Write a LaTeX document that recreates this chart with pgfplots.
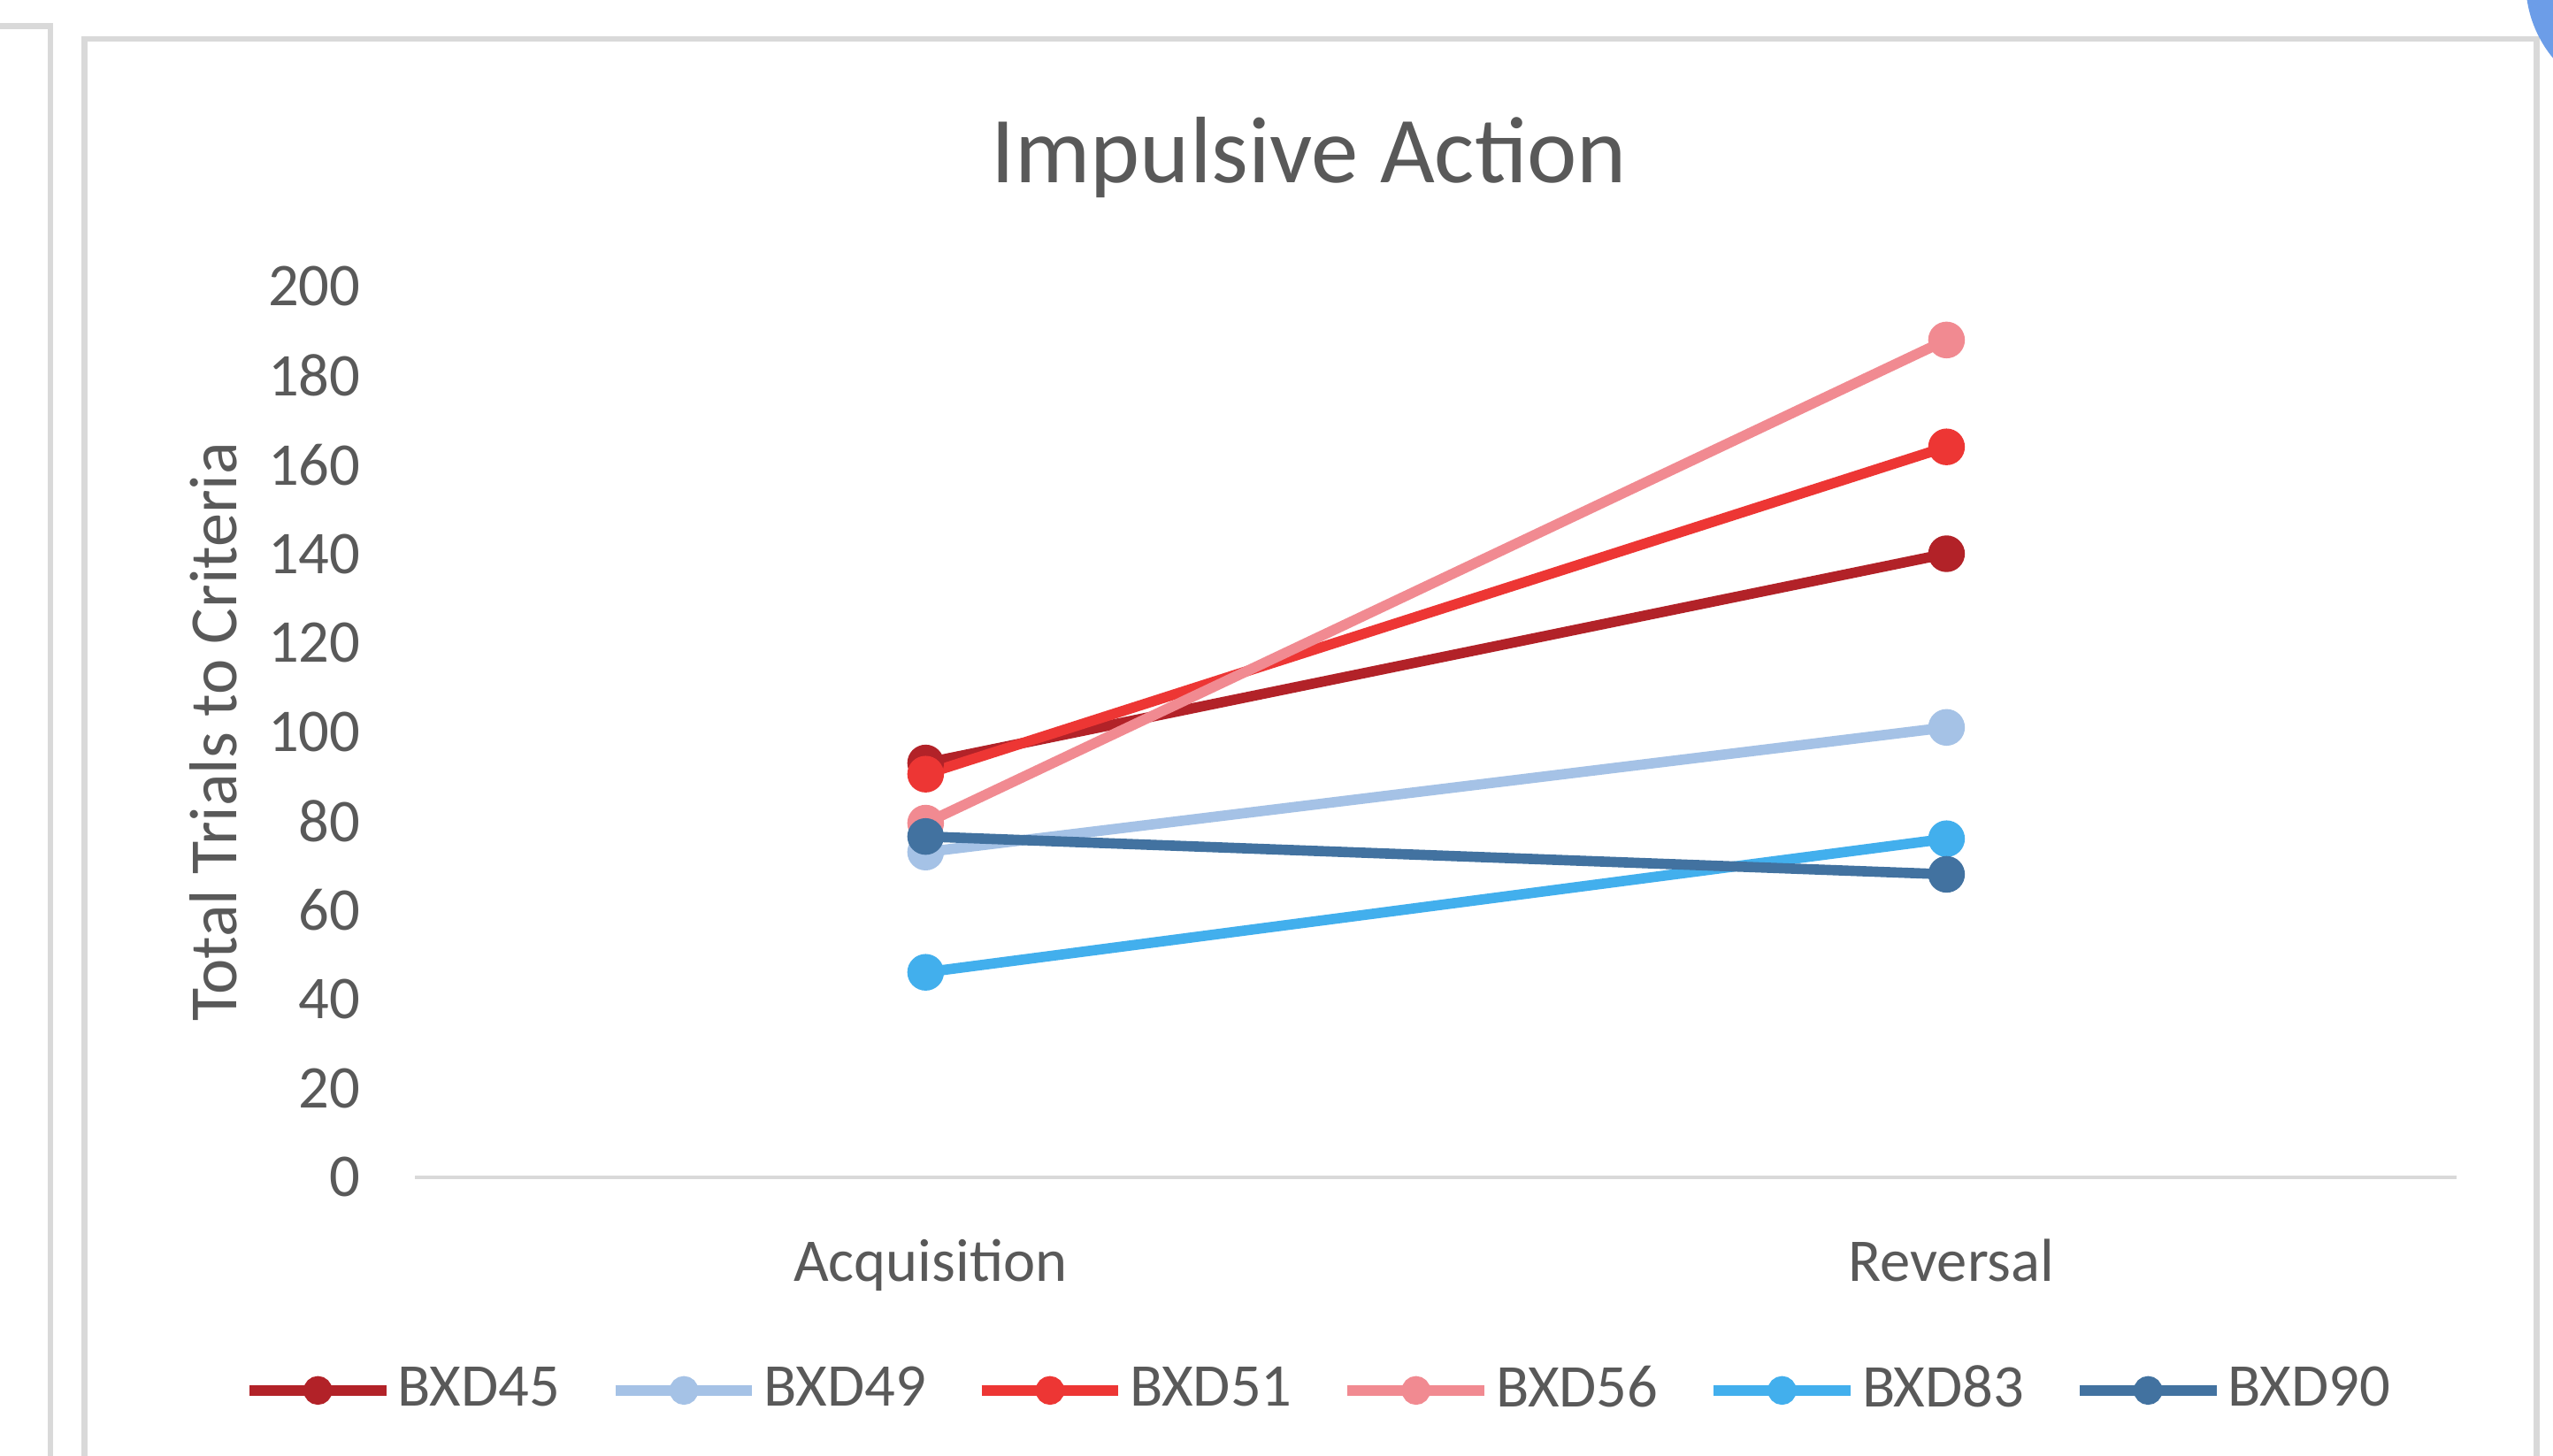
\documentclass[border=0pt]{standalone}
\usepackage{pgfplots}
\pgfplotsset{compat=1.18}
\usepackage{fontspec}
\setmainfont{Carlito}
\definecolor{txtgray}{RGB}{89,89,89}
\definecolor{framegray}{RGB}{217,217,217}
\definecolor{cA}{RGB}{178,34,40}
\definecolor{cB}{RGB}{165,194,230}
\definecolor{cC}{RGB}{237,54,52}
\definecolor{cD}{RGB}{241,138,145}
\definecolor{cE}{RGB}{66,175,237}
\definecolor{cF}{RGB}{66,114,160}
\definecolor{blob}{RGB}{108,157,232}
\begin{document}
\begin{tikzpicture}
\useasboundingbox (0,0) rectangle (156.8mm,89.4mm);
\begin{scope}
\clip (0,0) rectangle (156.8mm,89.4mm);
\fill[white] (0,0) rectangle (156.8mm,89.4mm);
% neighbouring frame on the left
\draw[framegray, line width=1pt] (-2mm,87.8mm) -- (3.1mm,87.8mm) -- (3.1mm,-2mm);
% chart frame
\draw[framegray, line width=1pt] (5.2mm,-2mm) -- (5.2mm,87.0mm) -- (155.8mm,87.0mm) -- (155.8mm,-2mm);
% blue shape at the top right corner
\fill[blob] (162.45mm,90.5mm) circle (7.33mm);
\end{scope}
\begin{axis}[
  at={(25.5mm,17.1mm)}, anchor=south west,
  scale only axis, width=125.4mm, height=54.7mm,
  xmin=-0.5, xmax=1.5, ymin=0, ymax=200,
  clip=false,
  axis lines=left,
  axis line style={-},
  y axis line style={draw=none},
  x axis line style={draw=framegray, line width=0.6pt},
  major tick length=0pt,
  xtick={0,1}, xticklabels={Acquisition,Reversal},
  ytick={0,20,...,200},
  /pgf/number format/assume math mode=true,
  ticklabel style={font=\fontsize{10.6}{12.7}\selectfont, text=txtgray},
  yticklabel style={anchor=east, inner sep=0pt, xshift=-3.3mm},
  xticklabel style={anchor=base, inner sep=0pt, yshift=-6.4mm, xshift=0.3mm},
  ylabel={Total Trials to Criteria},
  every axis y label/.style={at={(axis description cs:-0.099,0.5)}, rotate=90, anchor=center},
  ylabel style={font=\fontsize{11.8}{14}\selectfont, text=txtgray, inner sep=0pt},
  title={Impulsive Action},
  every axis title shift=0pt,
  title style={at={(axis description cs:0.4378,1.117)}, anchor=base, inner sep=0pt, font=\fontsize{16.5}{19}\selectfont, text=txtgray},
  legend columns=6,
  legend style={draw=none, fill=none, at={(axis description cs:0.4434,-0.2395)}, anchor=center,
    font=\fontsize{10.6}{12.7}\selectfont, text=txtgray,
    column sep=0pt, /tikz/every even column/.append style={column sep=2.7mm},
    nodes={inner xsep=0.4mm, inner ysep=0pt}},
  legend image code/.code={\draw[mark repeat=2,mark phase=2,mark size=1.6pt] plot coordinates {(0mm,0mm) (4.2mm,0mm) (8.4mm,0mm)};},
  every axis plot/.append style={line width=1.8pt, mark=*, mark size=2.3pt},
]
\addplot[color=cA, mark options={fill=cA}] coordinates {(0,93) (1,140)};
\addlegendentry{BXD45}
\addplot[color=cB, mark options={fill=cB}] coordinates {(0,73) (1,101)};
\addlegendentry{BXD49}
\addplot[color=cC, mark options={fill=cC}] coordinates {(0,90.5) (1,164)};
\addlegendentry{BXD51}
\addplot[color=cD, mark options={fill=cD}] coordinates {(0,79.5) (1,188)};
\addlegendentry{BXD56}
\addplot[color=cE, mark options={fill=cE}] coordinates {(0,46) (1,76)};
\addlegendentry{BXD83}
\addplot[color=cF, mark options={fill=cF}] coordinates {(0,76.5) (1,68)};
\addlegendentry{BXD90}
\end{axis}
\end{tikzpicture}
\end{document}
